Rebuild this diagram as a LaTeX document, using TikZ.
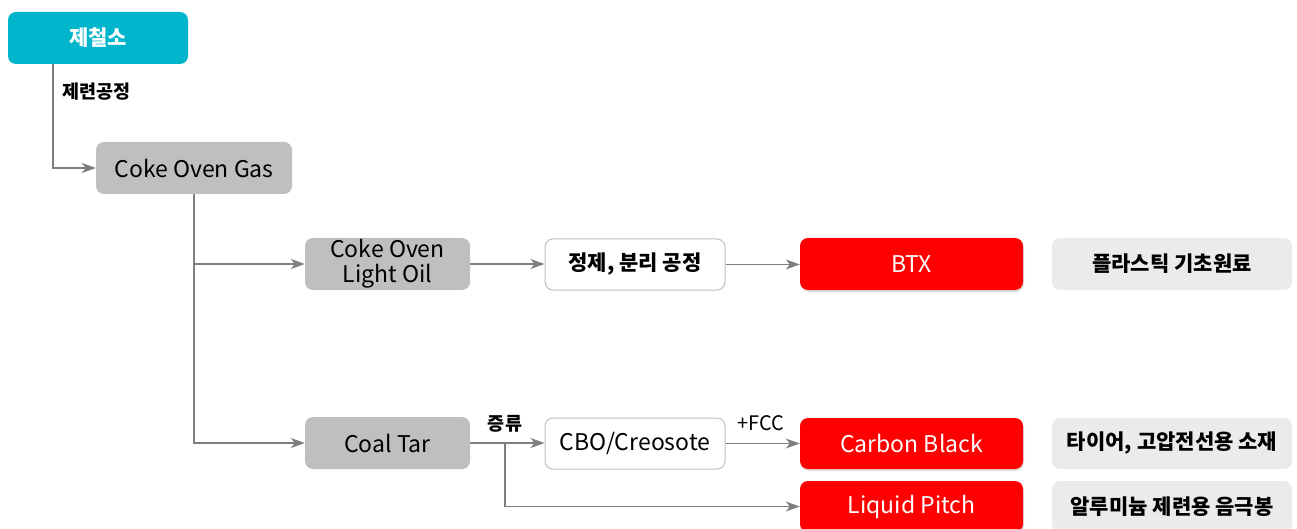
\documentclass[tikz,border=0pt]{standalone}
\usepackage{fontspec}
\setmainfont{Noto Sans CJK KR}
\usetikzlibrary{arrows.meta,shadows}
\definecolor{steelc}{HTML}{00B5CC}
\definecolor{boxgray}{HTML}{BFBFBF}
\definecolor{lightg}{HTML}{EBEBEB}
\definecolor{redc}{HTML}{FF0000}
\definecolor{linec}{HTML}{7F7F7F}
\begin{document}
\begin{tikzpicture}[x=1pt,y=-1pt,
  base/.style={rounded corners=8pt, inner sep=0pt, align=center, font=\fontsize{23}{25}\selectfont},
  graybox/.style={base, fill=boxgray, text=black},
  whitebox/.style={base, fill=white, draw=boxgray, line width=1pt},
  redbox/.style={base, fill=redc, text=white, drop shadow={opacity=0.25, shadow xshift=1pt, shadow yshift=-2pt}},
  notebox/.style={base, fill=lightg, text=black, font=\fontsize{21}{23}\selectfont\bfseries},
  conn/.style={draw=linec, line width=1.3pt, -{Stealth[length=14pt,width=10pt,inset=4pt]}},
  lbl/.style={font=\fontsize{18.5}{20}\selectfont\bfseries, inner sep=0pt}
]
\useasboundingbox (0,0) rectangle (1297,529);
\clip (0,0) rectangle (1297,529);

\node[base, fill=steelc, text=white, minimum width=180pt, minimum height=52pt, font=\fontsize{21}{23}\selectfont\bfseries] (steel) at (98,38) {제철소};
\node[graybox, minimum width=196pt, minimum height=52pt] (cog) at (194,168) {Coke Oven Gas};
\node[graybox, minimum width=165pt, minimum height=52pt, font=\fontsize{23}{25}\selectfont] (colo) at (387.5,264) {Coke Oven\\Light Oil};
\node[whitebox, minimum width=180pt, minimum height=51pt, font=\fontsize{21}{23}\selectfont\bfseries] (refine) at (635,264.5) {정제, 분리 공정};
\node[redbox, minimum width=223pt, minimum height=52pt] (btx) at (911.5,264) {BTX};
\node[notebox, minimum width=240pt, minimum height=52pt] (plast) at (1172,264) {플라스틱 기초원료};

\node[graybox, minimum width=165pt, minimum height=52pt] (coal) at (387.5,443) {Coal Tar};
\node[whitebox, minimum width=180pt, minimum height=51pt] (cbo) at (635,443.5) {CBO/Creosote};
\node[redbox, minimum width=223pt, minimum height=51pt] (cb) at (911.5,443.5) {Carbon Black};
\node[notebox, minimum width=240pt, minimum height=51pt] (tire) at (1172,443.5) {타이어, 고압전선용 소재};
\node[redbox, minimum width=223pt, minimum height=51pt] (lp) at (911.5,506.5) {Liquid Pitch};
\node[notebox, minimum width=240pt, minimum height=51pt] (alu) at (1172,506.5) {알루미늄 제련용 음극봉};

\coordinate (s0) at (53,64);
\draw[conn] (s0) |- (cog.west);
\node[lbl, anchor=west] (l1) at (62,92) {제련공정};

\draw[conn] (cog.south) |- (colo.west);
\draw[conn] (cog.south) |- (coal.west);
\draw[conn] (colo.east) -- (refine.west |- colo.east);
\draw[conn] (refine.east) -- (btx.west |- refine.east);
\draw[conn] (coal.east) -- (cbo.west |- coal.east);
\draw[conn] (cbo.east) -- (cb.west |- cbo.east);
\coordinate (br) at (505,443);
\draw[conn] (br) |- (lp.west);
\node[lbl] (l2) at (505,424) {증류};
\node[lbl, font=\fontsize{20}{22}\selectfont] (l3) at (761,423) {+FCC};
\end{tikzpicture}
\end{document}
